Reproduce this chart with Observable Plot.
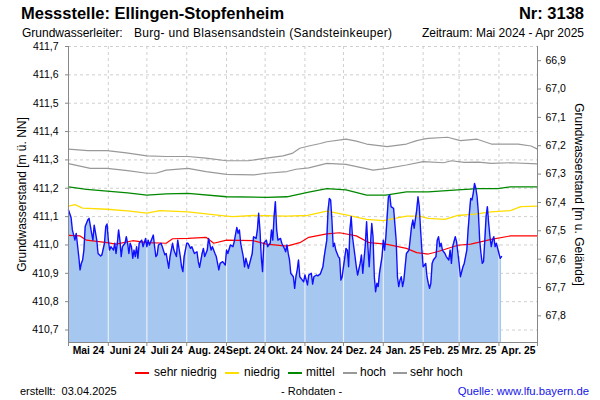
<!DOCTYPE html>
<html><head><meta charset="utf-8">
<script src="https://cdn.jsdelivr.net/npm/d3@7"></script>
<script src="https://cdn.jsdelivr.net/npm/@observablehq/plot@0.6"></script>
<style>
body{margin:0;background:#fff;font-family:"Liberation Sans",Arial,sans-serif;color:#000;}
#wrap{position:relative;width:600px;height:400px;overflow:hidden;background:#fff;}
.abs{position:absolute;white-space:pre;}
.sw{position:absolute;width:14px;height:1.5px;top:372px;}
.lg{position:absolute;top:366px;font-size:12px;line-height:12px;white-space:pre;}
#chart{position:absolute;left:0;top:40px;}
</style></head><body>
<div id="wrap">
  <div class="abs" style="left:21px;top:5px;font-size:16.5px;line-height:16.5px;font-weight:bold;">Messstelle: Ellingen-Stopfenheim</div>
  <div class="abs" style="right:16px;top:5px;font-size:16.5px;line-height:16.5px;font-weight:bold;">Nr: 3138</div>
  <div class="abs" style="left:22px;top:27px;font-size:12px;line-height:12px;">Grundwasserleiter:</div>
  <div class="abs" style="left:134px;top:27px;font-size:12px;line-height:12px;letter-spacing:0.3px;">Burg- und Blasensandstein (Sandsteinkeuper)</div>
  <div class="abs" style="right:16px;top:27px;font-size:12px;line-height:12px;">Zeitraum: Mai 2024 - Apr 2025</div>
  <div id="chart"></div>
  <div class="sw" style="left:135px;background:#ff0000;"></div><div class="lg" style="left:154px;">sehr niedrig</div>
  <div class="sw" style="left:225px;background:#ffdd00;"></div><div class="lg" style="left:244px;">niedrig</div>
  <div class="sw" style="left:288px;background:#008800;"></div><div class="lg" style="left:306px;">mittel</div>
  <div class="sw" style="left:343px;background:#999999;"></div><div class="lg" style="left:360px;">hoch</div>
  <div class="sw" style="left:393px;background:#999999;"></div><div class="lg" style="left:410px;">sehr hoch</div>
  <div class="abs" style="left:20px;top:386px;font-size:11px;line-height:11px;">erstellt:  03.04.2025</div>
  <div class="abs" style="left:281px;top:386px;font-size:11px;line-height:11px;">- Rohdaten -</div>
  <div class="abs" style="right:11px;top:386px;font-size:11.3px;line-height:11px;color:#1414e6;">Quelle: www.lfu.bayern.de</div>
</div>
<script>
// ---- data ----
const groundLevel = 478.55;            // m ü. NN (for right axis: m u. Gelände)
const startDate = "2024-05-01";
const endDate = "2025-05-01";
const monthLabels = ["Mai 24","Juni 24","Juli 24","Aug. 24","Sept. 24","Okt. 24","Nov. 24","Dez. 24","Jan. 25","Feb. 25","Mrz. 25","Apr. 25"];
const leftTicks = [410.7,410.8,410.9,411.0,411.1,411.2,411.3,411.4,411.5,411.6,411.7];
const rightTicks = [66.9,67.0,67.1,67.2,67.3,67.4,67.5,67.6,67.7,67.8];
const yDomain = [410.656, 411.7];

// measured level: [day since start, m ü. NN]
const measured = [
[0,411.123],[2,411.097],[3,411.053],[5,411.017],[6,411.041],[8,410.959],[9,410.912],[10,410.935],[11,410.947],[12,410.982],[13,411.065],[15,411.088],[16,411.094],[18,411.041],[19,411.017],[20,411.070],[22,411.017],[23,410.970],[25,410.961],[26,410.965],[28,411.006],[29,411.065],[30,411.074],[31,411.017],[32,410.982],[33,410.994],[35,410.982],[36,411.006],[37,410.970],[38,411.006],[39,411.053],[40,411.017],[41,410.959],[42,410.994],[44,411.006],[45,411.029],[46,411.006],[47,410.970],[48,411.006],[49,410.994],[50,410.953],[51,410.982],[52,410.959],[53,410.994],[54,410.953],[55,411.006],[57,411.017],[58,410.994],[60,411.023],[61,410.994],[62,411.017],[63,411.000],[65,411.023],[66,411.035],[67,410.994],[68,410.959],[69,410.965],[70,411.000],[72,411.006],[73,410.994],[75,410.965],[76,410.970],[78,410.918],[79,410.959],[80,410.982],[81,411.006],[82,410.982],[84,410.959],[85,411.017],[87,410.959],[88,410.923],[89,410.906],[90,410.959],[92,411.006],[93,411.006],
[95,410.988],[96,410.994],[98,410.970],[100,410.976],[101,410.941],[102,410.921],[104,410.970],[105,410.988],[106,410.959],[108,410.982],[109,411.023],[111,410.982],[112,410.994],[114,410.970],[115,410.959],[117,410.912],[118,410.935],[120,410.941],[122,410.929],[123,410.982],[124,410.970],[126,411.000],[128,410.994],[129,411.012],[131,411.062],[132,411.041],[133,411.053],[134,411.006],[136,410.959],[137,410.923],[138,410.953],[140,410.918],[141,410.935],[143,410.970],[144,411.029],[146,411.023],[147,411.053],[148,411.112],[149,411.053],[150,410.959],[151,410.906],[152,411.006],[154,411.017],[155,410.994],[157,411.006],[158,411.053],[159,411.017],[160,411.100],[161,411.153],[162,411.053],[163,411.017],[165,411.023],[166,411.006],[168,410.988],[169,410.976],[170,411.000],[171,410.970],[172,410.947],[173,410.900],[175,410.888],[176,410.847],[177,410.888],[178,410.912],[179,410.947],[180,410.888],[182,410.876],[183,410.870],[184,410.894],[186,410.859],
[187,410.894],[189,410.900],[190,410.862],[191,410.888],[193,410.894],[194,410.891],[196,410.898],[198,410.923],[199,410.959],[201,411.017],[202,411.123],[203,411.164],[204,411.159],[205,411.088],[206,410.994],[207,411.006],[208,410.982],[210,410.959],[211,410.953],[212,410.876],[213,410.888],[214,410.923],[216,410.988],[217,410.982],[218,410.923],[219,411.053],[220,411.100],[221,411.029],[223,410.959],[224,410.923],[225,410.894],[227,410.935],[228,410.965],[229,410.900],[231,411.000],[232,411.082],[233,410.994],[234,410.923],[236,411.076],[237,411.029],[238,410.888],[239,410.835],[240,410.865],[241,410.853],[242,410.900],[244,410.959],[245,411.017],[246,410.982],[247,411.029],[248,411.100],[249,411.170],[250,411.176],[251,411.135],[253,411.129],[255,411.017],[256,410.888],[257,410.853],[258,410.876],[259,410.888],[260,410.853],[261,410.876],[262,410.923],[263,410.970],[265,410.982],[267,411.065],[268,411.088],[269,411.059],[271,411.123],[272,411.170],[273,411.135],[274,411.053],[275,410.982],[276,410.923],[278,410.935],
[279,410.888],[280,410.865],[281,410.847],[282,410.865],[283,410.935],[284,410.947],[286,410.959],[287,411.017],[288,411.029],[289,410.994],[290,411.006],[291,410.982],[293,410.970],[294,410.959],[296,410.947],[297,410.982],[298,410.935],[299,410.994],[301,411.029],[302,411.012],[304,410.935],[305,410.888],[307,410.923],[308,410.935],[310,410.982],[311,411.053],[312,411.112],[313,411.164],[314,411.159],[315,411.182],[316,411.217],[317,411.200],[318,411.170],[319,411.112],[320,411.017],[321,410.970],[322,410.935],[323,410.941],[324,411.017],[325,411.100],[326,411.135],[327,411.076],[328,411.029],[329,410.994],[330,411.017],[331,411.029],[332,410.994],[333,411.006],[335,410.970],[336,410.953],[337,410.959]
];

const sehrHoch = [[0,411.338],[15,411.333],[30,411.333],[45,411.325],[61,411.314],[76,411.312],[93,411.312],[107,411.306],[123,411.297],[140,411.297],[154,411.306],[167,411.314],[174,411.323],[180,411.341],[187,411.349],[196,411.358],[201,411.364],[216,411.373],[224,411.366],[232,411.356],[248,411.347],[263,411.356],[271,411.368],[276,411.373],[280,411.376],[295,411.380],[305,411.368],[318,411.373],[329,411.356],[350,411.356],[360,411.349],[365,411.338]];
const hoch = [[0,411.287],[17,411.270],[30,411.270],[46,411.262],[61,411.253],[68,411.253],[76,411.264],[93,411.270],[107,411.259],[123,411.249],[144,411.247],[154,411.253],[170,411.259],[177,411.267],[187,411.272],[201,411.288],[216,411.284],[237,411.264],[248,411.270],[263,411.282],[276,411.294],[292,411.290],[298,411.297],[308,411.291],[319,411.292],[329,411.288],[344,411.290],[365,411.286]];
const mittel = [[0,411.205],[14,411.196],[30,411.190],[46,411.184],[61,411.176],[76,411.180],[93,411.182],[123,411.170],[154,411.168],[170,411.170],[187,411.186],[201,411.199],[216,411.194],[232,411.176],[247,411.176],[263,411.187],[280,411.187],[303,411.194],[319,411.199],[334,411.199],[344,411.205],[365,411.205]];
const niedrig = [[0,411.137],[5,411.142],[11,411.130],[30,411.126],[46,411.120],[61,411.112],[71,411.121],[93,411.117],[123,411.102],[128,411.100],[144,411.104],[170,411.102],[186,411.104],[201,411.119],[216,411.106],[232,411.090],[245,411.086],[263,411.102],[273,411.102],[280,411.094],[293,411.090],[303,411.104],[316,411.109],[329,411.117],[344,411.121],[352,411.135],[365,411.137]];
const sehrNiedrig = [[0,411.034],[9,411.032],[14,411.017],[30,411.008],[37,411.003],[50,411.015],[61,411.008],[76,411.006],[81,411.022],[93,411.023],[107,411.027],[113,411.006],[123,411.017],[144,411.015],[154,411.003],[170,410.996],[180,411.008],[187,411.027],[201,411.039],[211,411.043],[224,411.032],[234,411.008],[247,411.003],[263,410.988],[271,410.973],[280,410.968],[287,410.976],[303,410.999],[313,411.003],[329,411.020],[344,411.032],[365,411.032]];

// ---- build ----
const t0 = new Date(startDate + "T00:00:00Z");
const t1 = new Date(endDate + "T00:00:00Z");
const rows = arr => arr.map(([d, v]) => ({date: d3.utcDay.offset(t0, d), value: v}));
const meas = rows(measured);
const months = d3.utcMonth.range(t0, d3.utcDay.offset(t1, 1));
const mids = months.slice(0, -1).map((m, i) => new Date((+m + +months[i + 1]) / 2));
const lastDate = meas[meas.length - 1].date;
const innerMonths = months.filter(m => m > t0 && m <= lastDate);
function levelAt(t) {
  for (let i = 1; i < meas.length; i++) {
    const a = meas[i - 1], b = meas[i];
    if (t >= a.date && t <= b.date) {
      const f = (t - a.date) / (b.date - a.date);
      return a.value + f * (b.value - a.value);
    }
  }
  return meas[meas.length - 1].value;
}
const fmt = v => d3.format(".1f")(v).replace(".", ",");
const gridColor = "#cfcfcf";
const axisColor = "#888888";

const chart = Plot.plot({
  width: 600,
  height: 320,
  marginTop: 6,
  marginBottom: 18,
  marginLeft: 68,
  marginRight: 63,
  style: {fontFamily: "'Liberation Sans', Arial, sans-serif", fontSize: "10.5px", background: "transparent", overflow: "visible"},
  x: {type: "utc", domain: [t0, t1]},
  y: {domain: yDomain},
  marks: [
    Plot.ruleY(leftTicks, {stroke: gridColor, strokeDasharray: "3,3"}),
    Plot.ruleX(months, {stroke: gridColor, strokeDasharray: "3,3"}),
    Plot.areaY(meas, {x: "date", y1: yDomain[0], y2: "value", fill: "#a6c8f0"}),
    Plot.ruleX(innerMonths, {x: d => d, y1: yDomain[0], y2: d => levelAt(d), stroke: "#e8eef6", strokeWidth: 1.2}),
    Plot.lineY(rows(sehrHoch), {x: "date", y: "value", stroke: "#999999", strokeWidth: 1.2}),
    Plot.lineY(rows(hoch), {x: "date", y: "value", stroke: "#999999", strokeWidth: 1.2}),
    Plot.lineY(rows(mittel), {x: "date", y: "value", stroke: "#008800", strokeWidth: 1.3}),
    Plot.lineY(rows(niedrig), {x: "date", y: "value", stroke: "#ffdd00", strokeWidth: 1.3}),
    Plot.lineY(rows(sehrNiedrig), {x: "date", y: "value", stroke: "#ff0000", strokeWidth: 1.2}),
    Plot.lineY(meas, {x: "date", y: "value", stroke: "#1010ff", strokeWidth: 1.4}),
    Plot.ruleX([t0, t1], {stroke: axisColor}),
    Plot.ruleY([yDomain[0]], {stroke: axisColor}),
    Plot.axisY(leftTicks, {anchor: "left", tickSize: 3, tickPadding: 7, tickFormat: fmt, label: null, fontSize: 10.5, stroke: axisColor}),
    Plot.axisY(rightTicks.map(r => groundLevel - r), {anchor: "right", tickSize: 3, tickPadding: 5, tickFormat: v => fmt(groundLevel - v), label: null, fontSize: 10.5, stroke: axisColor}),
    Plot.axisX(months, {tickSize: 4, tickFormat: () => "", label: null, stroke: axisColor}),
    Plot.text(mids, {x: d => d, text: (d, i) => monthLabels[i], frameAnchor: "bottom", dy: 11, fontWeight: "bold", fontSize: 10.3}),
    Plot.text(["Grundwasserstand [m ü. NN]"], {frameAnchor: "left", textAnchor: "middle", dx: -46, rotate: -90, fontSize: 12}),
    Plot.text(["Grundwasserstand [m u. Gelände]"], {frameAnchor: "right", textAnchor: "middle", dx: 41, rotate: 90, fontSize: 12})
  ]
});
document.getElementById("chart").appendChild(chart);
</script>
</body></html>
